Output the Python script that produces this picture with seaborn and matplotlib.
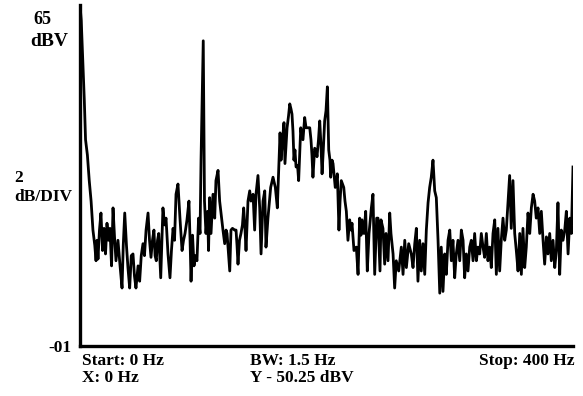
import matplotlib
matplotlib.use("Agg")
import matplotlib.pyplot as plt
import seaborn as sns
import pandas as pd

# Spectrum trace: frequency (Hz) and level (dBV)
freq_hz = [
    0, 1, 2.5, 3.5, 4.5, 6, 7.5, 9, 10.5, 12,
    13.0, 13.8, 14.6, 15.8, 17.0, 18.3, 19.5, 20.7, 21.9, 23.1, 24.3, 25.6, 26.8, 28.0, 29.2,
    30.8, 32.5, 34.1, 35.1, 36.3, 37.7, 38.9, 40.3, 41.6, 43.0, 44.2, 45.4, 47.1, 48.4, 49.7,
    51.1, 52.3, 53.6, 55.2, 56.4, 57.6, 58.8, 60.0, 60.9, 61.9, 62.9, 63.9, 65.5, 66.5, 67.3,
    68.6, 69.8, 71.4, 73.0, 74.2, 75.5, 76.7, 77.9, 79.5,
    81.1, 82.8, 84.0, 85.2, 86.8, 88.4, 89.3, 90.1, 91.3, 92.5, 93.7, 94.9, 96.2, 97.4, 98.2,
    99.0, 100.0, 101.0, 102.2, 103.5, 104.3, 105.2, 106.3, 107.9, 109.3, 110.3, 112.0, 113.3,
    114.4, 116.0, 117.4, 118.5, 119.3, 120.3, 121.5, 122.5, 123.7, 125.5, 126.6, 127.4, 128.2,
    129.4, 130.6, 131.8, 132.8, 133.9, 134.7, 136.3, 137.7, 138.7, 140.4, 141.7, 142.8, 144.4,
    145.8, 146.9, 148.5, 149.9, 150.9, 152.5, 154.7, 156.6, 158.5, 160.1,
    162.3, 163.1, 164.3, 165.5, 166.3, 168.0, 169.2, 170.2, 171.2, 172.0, 172.8, 173.6, 174.4,
    175.3, 176.5, 177.4, 179.1, 180.1, 180.9, 182.3, 183.4, 184.6, 186.4, 187.4, 188.2, 189.0,
    190.4, 191.5, 192.3, 193.5, 194.5, 195.5, 196.4, 197.4, 198.5, 199.6, 200.7, 201.8, 202.8,
    203.4, 204.5, 205.3, 207.1, 208.8, 210.1, 211.0, 212.0, 214.0, 215.0, 216.1, 217.4, 218.8,
    219.9, 220.7, 222.3, 224.2, 225.6, 226.9, 228.0, 228.8, 230.4, 231.8, 233.1, 234.5, 236.4,
    237.7, 239.1, 240.7,
    241.8, 243.4, 244.2, 245.8, 247.2, 248.3, 249.9, 251.3, 252.3, 254.0, 255.3, 256.6, 258.6,
    260.7, 262.1, 263.5, 264.8, 266.7, 268.8, 270.2, 271.6, 272.9, 274.2, 275.6, 276.9, 278.3,
    279.7, 281.0, 282.4, 283.7, 285.0, 286.4, 287.8, 289.1, 290.5, 291.9, 293.1, 294.5, 295.9,
    297.2, 298.6, 300.0, 301.3, 302.6, 304.0, 305.3, 306.7, 308.1, 309.4, 310.8, 312.1, 313.4,
    314.8, 316.2, 317.5, 318.9, 320.2, 321.6,
    322.9, 324.3, 325.6, 327.0, 328.3, 329.7, 331.0, 332.4, 333.7, 335.1, 336.5, 337.8, 339.1,
    340.5, 341.8, 343.2, 344.6, 345.9, 347.3, 348.6, 349.9, 351.3, 352.7, 354.0, 355.4, 356.8,
    358.1, 359.4, 360.8, 362.1, 363.5, 364.9, 366.2, 367.6, 368.9, 370.2, 371.6, 373.0, 374.3,
    375.7, 377.0, 378.4, 379.7, 381.1, 382.4, 383.8, 385.2, 386.5, 387.8, 389.2, 390.5, 391.9,
    393.3, 394.6, 396.0, 397.4, 398.7, 400.0,
]
level_dbv = [
    65.0, 64.1, 61.2, 59.4, 57.1, 56.2, 54.7, 53.5, 51.8, 50.9,
    50.0, 51.2, 50.1, 51.8, 52.8, 50.6, 51.9, 50.4, 52.2, 51.2, 51.9, 49.7, 53.1, 51.4, 50.0,
    51.2, 49.7, 48.4, 50.9, 52.8, 50.9, 49.6, 48.4, 50.3, 50.4, 49.1, 48.4, 49.7, 48.8, 50.3,
    51.0, 50.3, 51.8, 52.8, 51.2, 50.2, 51.2, 51.8, 50.3, 50.0, 51.2, 51.6, 49.0, 51.2, 53.1,
    52.1, 52.5, 50.4, 49.0, 50.6, 51.9, 51.2, 53.9, 54.5,
    52.5, 50.6, 51.2, 51.6, 52.4, 53.5, 51.2, 48.8, 51.5, 49.7, 50.3, 50.0, 52.5, 51.6, 55.9,
    59.0, 62.9, 53.5, 51.6, 52.9, 50.6, 53.7, 51.6, 53.9, 52.5, 54.7, 55.3, 53.5,
    52.8, 51.8, 51.0, 51.8, 51.6, 50.6, 49.4, 51.8, 51.9, 51.8, 51.8, 50.9, 49.8,
    51.2, 51.6, 52.1, 53.1, 51.8, 50.6, 53.5, 54.1, 53.5, 53.9, 51.8, 53.9, 55.0,
    53.1, 50.4, 53.5, 54.1, 50.8, 52.5, 54.3, 54.9, 54.3, 53.1,
    57.5, 55.9, 57.1, 58.1, 55.7, 57.8, 58.5, 59.2, 58.9, 58.6, 57.6, 55.9, 56.5,
    55.5, 55.6, 54.7, 57.8, 57.2, 57.1, 58.4, 57.8, 57.8, 57.8, 57.1, 56.2, 54.9,
    56.6, 56.5, 56.1, 57.1, 58.2, 56.8, 55.1, 56.5, 58.2, 58.8, 60.2, 56.5, 55.9,
    54.9, 55.9, 55.7, 54.3, 55.1, 51.8, 53.5, 54.7, 54.3, 53.5, 52.9, 51.2, 52.4,
    51.8, 52.2, 50.6, 50.8, 49.2, 52.5, 51.5, 52.4, 51.6, 52.9, 49.4, 51.6, 53.1,
    53.9, 49.2, 52.5,
    52.5, 49.4, 52.4, 51.9, 49.8, 51.6, 50.0, 52.8, 51.6, 50.4, 48.4, 50.0, 49.4,
    50.8, 49.2, 51.2, 49.6, 51.0, 50.4, 49.6, 51.0, 51.9, 48.8, 51.2, 49.4, 51.0,
    49.2, 51.8, 53.4, 54.3, 54.9, 55.9, 54.1, 53.7, 51.2, 48.1, 50.8, 48.2, 50.4,
    49.2, 51.2, 51.8, 50.0, 51.2, 49.0, 50.4, 51.2, 50.0, 51.8, 51.2, 49.0, 50.4,
    49.4, 50.8, 51.2, 50.0, 51.6, 50.0,
    50.8, 50.4, 51.6, 50.8, 50.2, 51.6, 50.0, 50.8, 49.6, 51.6, 52.4, 49.2, 51.9,
    49.4, 51.2, 52.5, 51.2, 51.8, 53.5, 55.0, 51.9, 54.7, 51.6, 50.6, 49.4, 51.6,
    49.2, 51.9, 49.6, 50.8, 52.8, 51.6, 53.1, 53.9, 53.5, 52.5, 53.1, 51.6, 52.9,
    51.2, 49.8, 51.4, 50.4, 51.6, 50.0, 51.2, 49.6, 50.6, 53.4, 49.2, 51.8, 51.2,
    51.8, 52.9, 50.4, 52.5, 51.6, 55.5,
]

df = pd.DataFrame({"freq": freq_hz, "level": level_dbv})

W, H = 583, 396
fig = plt.figure(figsize=(W / 100, H / 100), dpi=100)
ax = fig.add_axes([80 / W, 1 - 346 / H, (573 - 80) / W, (346 - 5) / H])

sns.lineplot(data=df, x="freq", y="level", ax=ax, color="black",
             linewidth=2.0, estimator=None, sort=False)

ax.set_xlim(0, 400)
ax.set_ylim(45, 65)
ax.set_xticks([])
ax.set_yticks([])
ax.set_xlabel("")
ax.set_ylabel("")
for s in ("top", "right"):
    ax.spines[s].set_visible(False)
for s in ("left", "bottom"):
    ax.spines[s].set_linewidth(2.4)
    ax.spines[s].set_color("black")

font = dict(family="Liberation Serif", fontweight="bold", color="black")

def put(x, y, s, ha="left", size=12.5):
    fig.text(x / W, 1 - y / H, s, ha=ha, va="center", fontsize=size, **font)

put(33, 19, "65", size=13)
put(30, 41, "dBV", size=14)
put(14, 178, "2")
put(14, 197, "dB/DIV")
put(48, 348, "-01")
put(82, 361, "Start: 0 Hz")
put(82, 378, "X: 0 Hz")
put(250, 361, "BW: 1.5 Hz")
put(250, 378, "Y - 50.25 dBV")
put(575, 361, "Stop: 400 Hz", ha="right")

fig.savefig("out.png", dpi=100, facecolor="white")
